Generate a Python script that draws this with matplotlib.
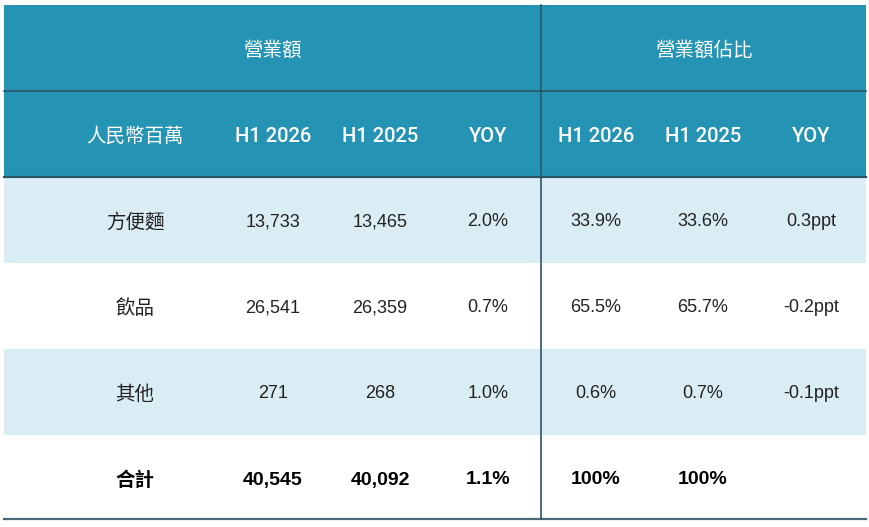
import matplotlib.pyplot as plt
from matplotlib.patches import Rectangle

plt.rcParams['font.family'] = ['Liberation Sans', 'Noto Sans CJK TC', 'DejaVu Sans']

# Données du tableau
group_headers = ['營業額', '營業額佔比']
col_headers = ['人民幣百萬', 'H1 2026', 'H1 2025', 'YOY', 'H1 2026', 'H1 2025', 'YOY']
row_labels = ['方便麵', '飲品', '其他', '合計']
rev_2026 = ['13,733', '26,541', '271', '40,545']
rev_2025 = ['13,465', '26,359', '268', '40,092']
rev_yoy = ['2.0%', '0.7%', '1.0%', '1.1%']
share_2026 = ['33.9%', '65.5%', '0.6%', '100%']
share_2025 = ['33.6%', '65.7%', '0.7%', '100%']
share_yoy = ['0.3ppt', '-0.2ppt', '-0.1ppt', '']

W, H = 870, 527
fig = plt.figure(figsize=(W / 100, H / 100), dpi=100)
ax = fig.add_axes([0, 0, 1, 1])
ax.set_xlim(0, W)
ax.set_ylim(H, 0)
ax.axis('off')

head_col = '#2493b4'
light = '#daedf4'
line_col = '#2c5566'
cjk = ['Noto Sans CJK TC', 'DejaVu Sans']
latin_head = ['Roboto', 'Liberation Sans']

x0, x1 = 4, 866
xdiv = 541
row_top = [5, 91, 177, 263, 349, 435]
row_h = 86
col_x = [135, 273, 380, 488, 596, 703, 811]
dy = 2  # petit décalage vertical


def is_cjk(s):
    return any(ord(ch) > 0x2e80 for ch in s)


# Fond en-tête
ax.add_patch(Rectangle((x0, row_top[0]), x1 - x0, 2 * row_h, color=head_col, lw=0))
# Lignes de données (alternance)
for i in range(4):
    c = light if i % 2 == 0 else 'white'
    ax.add_patch(Rectangle((x0, row_top[2 + i]), x1 - x0, row_h, color=c, lw=0))

# Lignes
ax.plot([x0, x1], [row_top[1], row_top[1]], color=line_col, lw=1.2)
ax.plot([x0, x1], [row_top[2], row_top[2]], color=line_col, lw=1.6)
ax.plot([x0, x1], [519, 519], color='#4a6a78', lw=1.6)
ax.plot([xdiv, xdiv], [row_top[0], 519], color=line_col, lw=1.2)

# En-têtes de groupe
ax.text((x0 + xdiv) / 2, row_top[0] + row_h / 2 + dy, group_headers[0], color='white',
        fontsize=14, fontweight='medium', family=cjk, ha='center', va='center')
ax.text((xdiv + x1) / 2, row_top[0] + row_h / 2 + dy, group_headers[1], color='white',
        fontsize=14, fontweight='medium', family=cjk, ha='center', va='center')

for x, t in zip(col_x, col_headers):
    if is_cjk(t):
        ax.text(x, row_top[1] + row_h / 2 + dy, t, color='white', fontsize=14,
                fontweight='medium', family=cjk, ha='center', va='center')
    else:
        ax.text(x, row_top[1] + row_h / 2 + dy, t, color='white', fontsize=14.5,
                fontweight='medium', family=latin_head, ha='center', va='center')

cols = [row_labels, rev_2026, rev_2025, rev_yoy, share_2026, share_2025, share_yoy]
for i in range(4):
    y = row_top[2 + i] + row_h / 2 + dy
    bold = i == 3
    for x, col in zip(col_x, cols):
        t = col[i]
        kw = dict(color='black' if bold else '#222222',
                  fontweight='bold' if bold else 'normal', ha='center', va='center')
        if is_cjk(t):
            ax.text(x, y, t, fontsize=14, family=cjk, **kw)
        else:
            ax.text(x, y, t, fontsize=14 if bold else 13, **kw)

fig.savefig('out.png', dpi=100)
